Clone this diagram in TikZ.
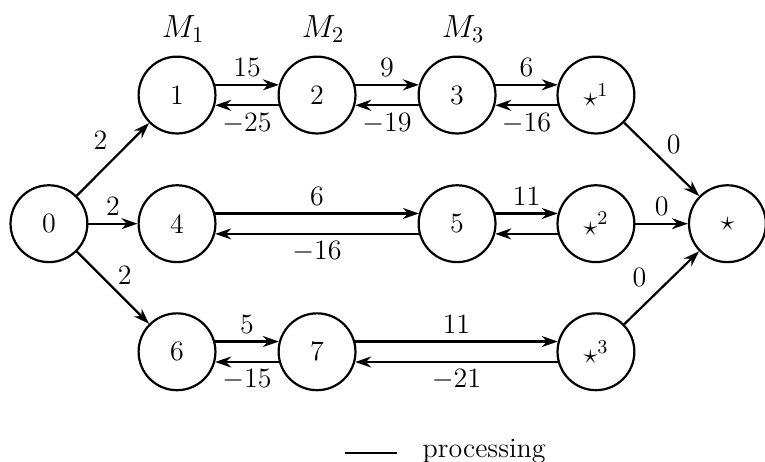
\RequirePackage{fix-cm}
\documentclass[tikz,border=0pt]{standalone}
\usepackage{amsmath,amssymb}
\usepackage{tikz}
\usetikzlibrary{arrows.meta,positioning}
\newcommand{\lblfont}{\fontsize{14}{16}\selectfont}
\newcommand{\machfont}{\fontsize{16}{18}\selectfont}

\begin{document}
\begin{tikzpicture}[
    state/.style={circle,draw,line width=1.1pt,minimum size=1.35cm,
                  inner sep=0pt,font=\lblfont},
    arr/.style={-{Stealth[length=8pt,width=5.5pt]},line width=1.1pt},
    wt/.style={font=\lblfont},
    mach/.style={font=\machfont,label distance=3pt,xshift=3pt},
  ]
  \useasboundingbox (0,0) rectangle (13.44,8.10);

  \node[state] (n0) at (0.86,4.17) {0};
  \node[state,label={[mach]above:$M_1$}] (n1) at (3.11,6.43) {1};
  \node[state,label={[mach]above:$M_2$}] (n2) at (5.57,6.43) {2};
  \node[state,label={[mach]above:$M_3$}] (n3) at (8.03,6.43) {3};
  \node[state] (s1) at (10.47,6.43) {$\star^1$};

  \node[state] (n4) at (3.11,4.17) {4};
  \node[state] (n5) at (8.03,4.17) {5};
  \node[state] (s2) at (10.47,4.17) {$\star^2$};
  \node[state] (st) at (12.78,4.17) {$\star$};

  \node[state] (n6) at (3.11,1.92) {6};
  \node[state] (n7) at (5.57,1.92) {7};
  \node[state] (s3) at (10.47,1.92) {$\star^3$};

  % source arcs
  \draw[arr] (n0) -- node[wt,pos=0.53,above left]{2} (n1);
  \draw[arr] (n0) -- node[wt,above]{2} (n4);
  \draw[arr] (n0) -- node[wt,pos=0.51,above right,inner sep=1.5pt]{2} (n6);

  % forward and backward arcs
  \draw[arr] (n1.15) -- node[wt,above]{15} (n2.165);
  \draw[arr] (n2.195) -- node[wt,below]{$-25$} (n1.-15);
  \draw[arr] (n2.15) -- node[wt,above]{9} (n3.165);
  \draw[arr] (n3.195) -- node[wt,below]{$-19$} (n2.-15);
  \draw[arr] (n3.15) -- node[wt,above]{6} (s1.165);
  \draw[arr] (s1.195) -- node[wt,below]{$-16$} (n3.-15);

  \draw[arr] (n4.15) -- node[wt,above]{6} (n5.165);
  \draw[arr] (n5.195) -- node[wt,below]{$-16$} (n4.-15);
  \draw[arr] (n5.15) -- node[wt,above]{11} (s2.165);
  \draw[arr] (s2.195) -- (n5.-15);

  \draw[arr] (n6.15) -- node[wt,above]{5} (n7.165);
  \draw[arr] (n7.195) -- node[wt,below]{$-15$} (n6.-15);
  \draw[arr] (n7.15) -- node[wt,above]{11} (s3.165);
  \draw[arr] (s3.195) -- node[wt,below]{$-21$} (n7.-15);

  % sink arcs
  \draw[arr] (s1) -- node[wt,above right,inner sep=2pt]{0} (st);
  \draw[arr] (s2) -- node[wt,above]{0} (st);
  \draw[arr] (s3) -- node[wt,pos=0.4,above left]{0} (st);

  % legend
  \coordinate (legA) at (6.06,0.14);
  \coordinate (legB) at (6.98,0.14);
  \draw[line width=1.1pt] (legA) -- (legB);
  \node[wt,anchor=base west,inner sep=0pt] (proc) at (7.42,0.07) {processing};
\end{tikzpicture}
\end{document}
